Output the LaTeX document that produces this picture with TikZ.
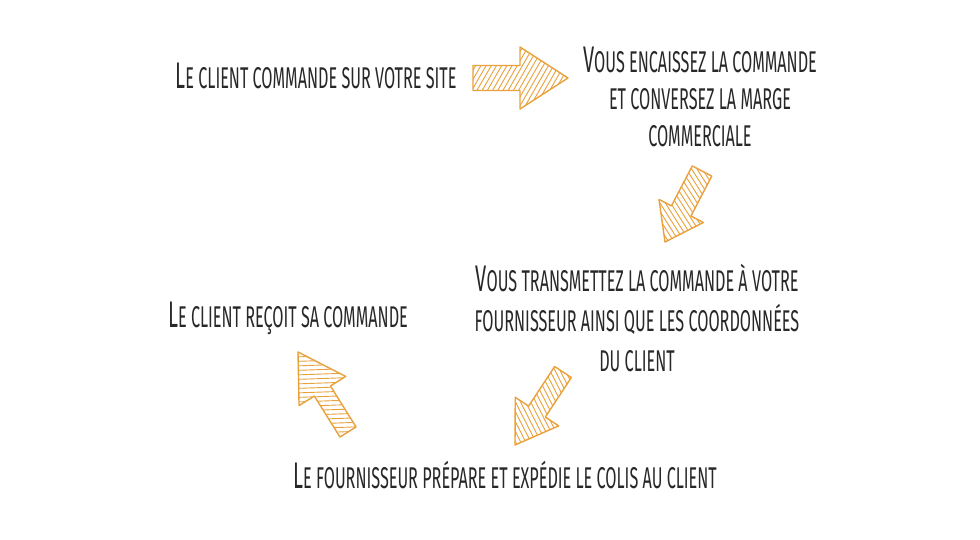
\documentclass[tikz,border=0pt]{standalone}
\usepackage{fontspec}
\usetikzlibrary{calc}
\newfontfamily\hand[FakeStretch=0.54]{Fira Sans}
\definecolor{textc}{RGB}{40,40,40}
\definecolor{arrc}{RGB}{233,161,59}
\newcommand\B[1]{{\fontsize{37}{37}\selectfont #1}}
\tikzset{
  txt/.style={inner sep=0pt, text=textc, font=\hand\fontsize{30}{37}\selectfont, align=center},
  arrowline/.style={draw=arrc, line width=1.4pt, line join=round},
  hatch/.style={draw=arrc, line width=0.9pt},
}
% #1 tail, #2 tip, #3 shaft half width, #4 head half width, #5 head length, #6 hatch angle
\newcommand\blockarrow[6]{%
  \coordinate (ba-b) at ($(#2)!#5!(#1)$);
  \coordinate (ba-m) at ($(#1)!0.5!(#2)$);
  \def\bapath{($(#1)!#3!90:(#2)$) -- ($(ba-b)!#3!90:(#2)$) -- ($(ba-b)!#4!90:(#2)$) -- (#2) -- ($(ba-b)!#4!-90:(#2)$) -- ($(ba-b)!#3!-90:(#2)$) -- ($(#1)!#3!-90:(#2)$) -- cycle}%
  \begin{scope}
    \clip \bapath;
    \begin{scope}[shift={(ba-m)}, rotate=#6]
      \foreach \k in {-72,-67.5,...,72} \draw[hatch] (-80,\k) -- (80,\k);
    \end{scope}
  \end{scope}
  \draw[arrowline] \bapath;
}
\begin{document}
\begin{tikzpicture}[x=1pt, y=-1pt]
\fill[white] (0,0) rectangle (980,540);
\useasboundingbox (0,0) rectangle (980,540);

\node[txt, anchor=base] (t1) at (316,89) {\B{L}E CLIENT COMMANDE SUR VOTRE SITE};
\node[txt] (t2) at (700,97) {\B{V}OUS ENCAISSEZ LA COMMANDE\\ET CONVERSEZ LA MARGE\\COMMERCIALE};
\node[txt, font=\hand\fontsize{30}{40}\selectfont] (t3) at (637,318) {\B{V}OUS TRANSMETTEZ LA COMMANDE À VOTRE\\FOURNISSEUR AINSI QUE LES COORDONNÉES\\DU CLIENT};
\node[txt, anchor=base] (t4) at (288,327) {\B{L}E CLIENT REÇOIT SA COMMANDE};
\node[txt, anchor=base] (t5) at (505,488) {\B{L}E FOURNISSEUR PRÉPARE ET EXPÉDIE LE COLIS AU CLIENT};

\coordinate (a1t) at (473,78);  \coordinate (a1p) at (568,78);
\coordinate (a2t) at (702,171); \coordinate (a2p) at (665,242);
\coordinate (a3t) at (563,372); \coordinate (a3p) at (515,445);
\coordinate (a4t) at (348,432); \coordinate (a4p) at (298,352);

\blockarrow{a1t}{a1p}{12.5pt}{31pt}{48pt}{60}
\blockarrow{a2t}{a2p}{11pt}{25pt}{35pt}{-57.5}
\blockarrow{a3t}{a3p}{10pt}{26pt}{40pt}{-63}
\blockarrow{a4t}{a4p}{9.5pt}{27.5pt}{46pt}{2}
\end{tikzpicture}
\end{document}
